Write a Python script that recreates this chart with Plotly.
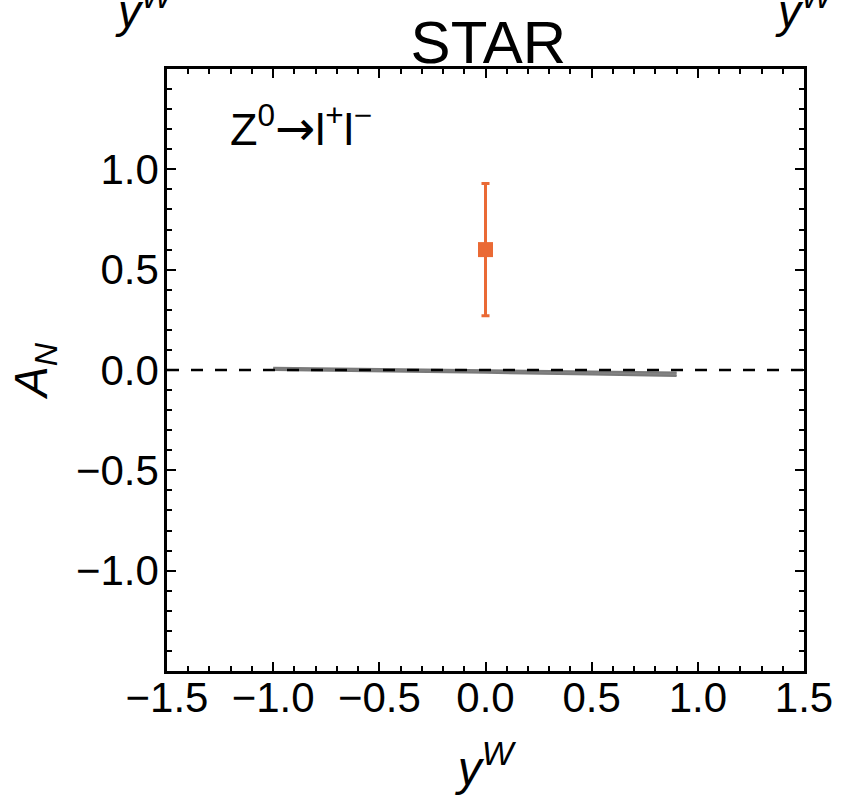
import plotly.graph_objects as go

# STAR measurement of the Z0 single-spin asymmetry
star_y = [0.0]
star_an = [0.60]
star_err = [0.33]

# Theory curve (band) versus boson rapidity
theory_y = [-1.0, -0.5, 0.0, 0.5, 0.9]
theory_upper = [0.011, 0.005, -0.002, -0.008, -0.012]
theory_lower = [0.000, -0.006, -0.014, -0.022, -0.030]

x_ticks = [-1.5, -1.0, -0.5, 0.0, 0.5, 1.0, 1.5]
y_ticks = [-1.0, -0.5, 0.0, 0.5, 1.0]

FONT = "Liberation Sans, Arial, Helvetica, sans-serif"
ORANGE = "#EA6A35"
GRAY = "#858585"

fig = go.Figure()

# lower edge of the band
fig.add_trace(go.Scatter(
    x=theory_y, y=theory_lower, mode="lines",
    line=dict(color="#7A7A7A", width=2), showlegend=False, hoverinfo="skip",
))
# upper edge, filled down to the lower edge
fig.add_trace(go.Scatter(
    x=theory_y, y=theory_upper, mode="lines", fill="tonexty",
    fillcolor=GRAY, line=dict(color="#7A7A7A", width=2),
    showlegend=False, hoverinfo="skip",
))

# data point with error bar
fig.add_trace(go.Scatter(
    x=star_y, y=star_an, mode="markers",
    marker=dict(symbol="square", size=15, color=ORANGE),
    error_y=dict(type="data", array=star_err, color=ORANGE, thickness=3, width=4),
    showlegend=False,
))

# zero reference line
fig.add_shape(type="line", xref="paper", x0=0, x1=1, yref="y", y0=0, y1=0,
              line=dict(color="black", width=2.5, dash="12px,12px"))

axis_common = dict(
    showgrid=False, zeroline=False, showline=True, linecolor="black",
    linewidth=2.5, mirror="ticks", ticks="inside", ticklen=9, tickwidth=2,
    tickcolor="black", tickfont=dict(family=FONT, size=42, color="black"),
    minor=dict(ticks="inside", ticklen=5, tickwidth=1.5, tickcolor="black", dtick=0.1),
)

fig.update_layout(
    width=845, height=799,
    margin=dict(l=167, r=32, t=69, b=125),
    paper_bgcolor="white", plot_bgcolor="white",
    font=dict(family=FONT, color="black"),
    title=dict(text="STAR", x=0.578, xanchor="center", y=0.948, yanchor="middle",
               font=dict(family=FONT, size=60, color="black")),
    xaxis=dict(
        range=[-1.5, 1.5], tickvals=x_ticks,
        ticktext=[f"{v:.1f}".replace("-", "\u2212") for v in x_ticks],
        ticklabelstandoff=-12,
        title=dict(text="<i>y</i><sup><i>W</i></sup>", font=dict(family=FONT, size=48),
                   standoff=32),
        **axis_common,
    ),
    yaxis=dict(
        range=[-1.5, 1.5], tickvals=y_ticks,
        ticktext=[f"{v:.1f}".replace("-", "\u2212") for v in y_ticks],
        ticklabelstandoff=-3,
        title=dict(text="<i>A<sub>N</sub></i>", font=dict(family=FONT, size=46),
                   standoff=14),
        **axis_common,
    ),
    annotations=[
        dict(text="Z<sup>0</sup><span style=\"font-family:'DejaVu Sans';font-size:48px\">\u2192</span>"
                  "l<sup>+</sup>l<sup>\u2212</sup>",
             xref="paper", yref="paper", x=0.095, y=0.905,
             xanchor="left", yanchor="middle", showarrow=False,
             font=dict(family=FONT, size=45, color="black")),
        # axis titles of the neighbouring panels above, cut off at the top edge
        dict(text="<i>y</i><sup><i>W</i></sup>", xref="paper", yref="paper",
             x=-0.035, y=1.05, xanchor="center", yanchor="bottom", showarrow=False,
             font=dict(family=FONT, size=46, color="black")),
        dict(text="<i>y</i><sup><i>W</i></sup>", xref="paper", yref="paper",
             x=1.0, y=1.05, xanchor="center", yanchor="bottom", showarrow=False,
             font=dict(family=FONT, size=46, color="black")),
    ],
)

fig.write_html("out.html")
